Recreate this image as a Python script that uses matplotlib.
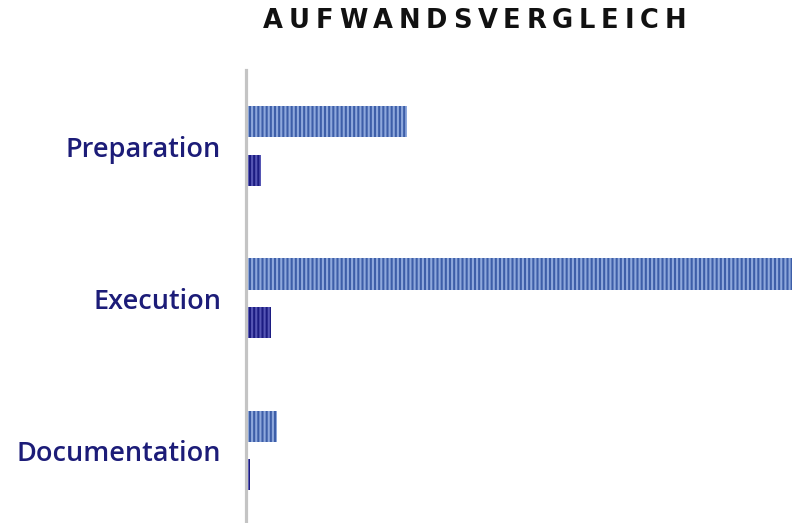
import numpy as np
import matplotlib.pyplot as plt

categories = ["Preparation", "Execution", "Documentation"]
effort_a = [29.5, 100, 5.7]
effort_b = [2.8, 4.6, 0.75]
title = "AUFWANDSVERGLEICH"

plt.rcParams['hatch.linewidth'] = 1.5

fig = plt.figure(figsize=(7.92, 5.23), dpi=100)
ax = fig.add_axes([246 / 792, 0, (792 - 246) / 792, 453 / 523])

y = np.arange(len(categories))
h = 0.204
off = 0.158

ax.barh(y - off, effort_a, height=h, color='#3d5ea8', hatch='||||',
        edgecolor='#8ea8dc', linewidth=0)
ax.barh(y + off, effort_b, height=h, color='#1c1c82', hatch='||||',
        edgecolor='#5656b4', linewidth=0)

ax.set_xlim(0, max(effort_a))
ax.set_ylim(2.48, -0.5)
ax.set_yticks(y)
ax.set_yticklabels(categories, fontsize=19.5, fontweight=600, color='#1c1c78',
                   family=['Open Sans', 'DejaVu Sans'])
ax.tick_params(axis='y', length=0, pad=18)
ax.set_xticks([])
for s in ['top', 'right', 'bottom']:
    ax.spines[s].set_visible(False)
ax.spines['left'].set_color('#c4c4c4')
ax.spines['left'].set_linewidth(2.3)

# letter-spaced title, laid out char by char
r = fig.canvas.get_renderer()
texts = []
for ch in title:
    t = fig.text(0, 1 - 21 / 523, ch, ha='left', va='center', fontsize=18.5,
                 fontweight='bold', color='#111111', family=['DejaVu Sans'])
    texts.append(t)
widths = [t.get_window_extent(r).width for t in texts]
left, right = 263, 686
gap = (right - left - sum(widths)) / (len(title) - 1)
x = left
for t, w in zip(texts, widths):
    t.set_x(x / 792)
    x += w + gap

fig.savefig("out.png", dpi=100)
